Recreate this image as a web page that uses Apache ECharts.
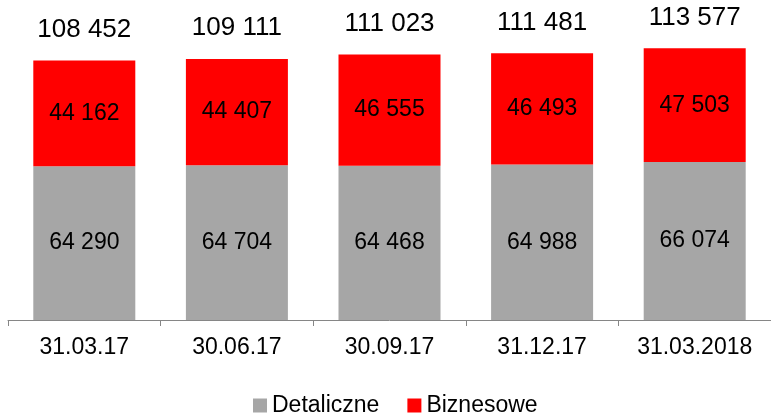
<!DOCTYPE html>
<html>
<head>
<meta charset="utf-8">
<script src="https://cdn.jsdelivr.net/npm/echarts@6/dist/echarts.min.js"></script>
<style>
  html, body { margin: 0; padding: 0; background: #fff; }
  #chart { width: 771px; height: 413px; }
</style>
</head>
<body>
<div id="chart"></div>
<script>
const categories = ['31.03.17', '30.06.17', '30.09.17', '31.12.17', '31.03.2018'];
const detaliczne = [64290, 64704, 64468, 64988, 66074];
const biznesowe = [44162, 44407, 46555, 46493, 47503];

const totals = detaliczne.map((v, i) => v + biznesowe[i]);

// thousands separated by a space
const fmt = v => String(v).replace(/\B(?=(\d{3})+(?!\d))/g, ' ');

const chart = echarts.init(document.getElementById('chart'));

const option = {
  backgroundColor: '#ffffff',
  animation: false,
  textStyle: { fontFamily: 'Liberation Sans, Arial, sans-serif' },
  legend: {
    left: 253,
    top: 394,
    padding: 0,
    itemWidth: 14,
    itemHeight: 14,
    itemGap: 28,
    icon: 'rect',
    textStyle: { fontSize: 23, color: '#000' },
    data: ['Detaliczne', 'Biznesowe']
  },
  grid: {
    left: 8,
    right: -6,
    top: 33,
    bottom: 93,
    containLabel: false
  },
  xAxis: {
    type: 'category',
    data: categories,
    axisLine: { lineStyle: { color: '#868686', width: 1 } },
    axisTick: { show: true, length: 6, lineStyle: { color: '#868686' } },
    axisLabel: { color: '#000', fontSize: 23, margin: 16 }
  },
  yAxis: {
    type: 'value',
    min: 0,
    max: 120000,
    show: false,
    splitLine: { show: false }
  },
  series: [
    {
      name: 'Detaliczne',
      type: 'bar',
      stack: 'total',
      barWidth: 102,
      data: detaliczne,
      itemStyle: { color: '#a6a6a6' },
      label: {
        show: true,
        position: 'inside',
        color: '#000',
        fontSize: 23,
        formatter: p => fmt(p.value)
      }
    },
    {
      name: 'Biznesowe',
      type: 'bar',
      stack: 'total',
      barWidth: 102,
      data: biznesowe,
      itemStyle: { color: '#ff0000' },
      label: {
        show: true,
        position: 'inside',
        color: '#000',
        fontSize: 23,
        formatter: p => fmt(p.value)
      }
    },
    {
      // invisible helper to put the totals above each stack
      name: 'Suma',
      type: 'bar',
      stack: 'total',
      barWidth: 102,
      data: totals.map(() => 0),
      itemStyle: { color: 'transparent' },
      label: {
        show: true,
        position: 'top',
        distance: 18,
        color: '#000',
        fontSize: 26,
        formatter: p => fmt(totals[p.dataIndex])
      }
    }
  ]
};

chart.setOption(option);
</script>
</body>
</html>
